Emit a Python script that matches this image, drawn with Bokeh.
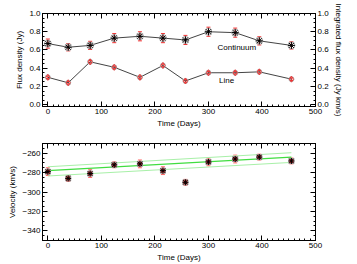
from bokeh.plotting import figure
from bokeh.layouts import column
from bokeh.models import (ColumnDataSource, Whisker, TeeHead, LinearAxis, Range1d,
                          SingleIntervalTicker, Label, CustomJSTickFormatter,
                          NumeralTickFormatter)
from bokeh.embed import file_html
from bokeh.resources import INLINE

# ---- data ----
days = [0, 38, 79, 124, 172, 215, 257, 300, 350, 395, 455]
continuum = [0.67, 0.63, 0.65, 0.73, 0.75, 0.73, 0.71, 0.80, 0.79, 0.70, 0.65]
continuum_err = [0.05, 0.04, 0.045, 0.05, 0.05, 0.05, 0.05, 0.05, 0.05, 0.045, 0.04]
line_flux = [0.30, 0.24, 0.47, 0.41, 0.30, 0.43, 0.26, 0.35, 0.35, 0.36, 0.28]
line_err = [0.015, 0.015, 0.015, 0.015, 0.015, 0.015, 0.015, 0.015, 0.015, 0.015, 0.015]
velocity = [-279, -286, -281, -272, -271, -278, -290, -269, -266, -264, -268]
velocity_err = [4, 3, 4, 3, 4, 4, 3, 4, 4, 3, 3]
fit_x = [0, 455]
fit_mid = [-278, -264]
fit_hi = [-274, -259.5]
fit_lo = [-283.5, -269.5]

FONT = "Liberation Sans"
FS = "8px"


def style_axis(ax, show_labels=True):
    ax.major_tick_in = 5
    ax.major_tick_out = 0
    ax.minor_tick_in = 2
    ax.minor_tick_out = 0
    ax.axis_line_color = "black"
    ax.major_tick_line_color = "black"
    ax.minor_tick_line_color = "black"
    ax.major_label_text_font = FONT
    ax.major_label_text_font_size = FS
    ax.major_label_text_color = "black"
    ax.major_label_standoff = 2
    ax.axis_label_text_font = FONT
    ax.axis_label_text_font_size = FS
    ax.axis_label_text_font_style = "normal"
    ax.axis_label_text_color = "black"
    ax.axis_label_standoff = 2
    if not show_labels:
        ax.formatter = CustomJSTickFormatter(code="return '';")
        ax.major_label_standoff = 0


def make_fig(h, ymin, ymax, border_top, border_bottom):
    p = figure(width=349, height=h, output_backend="svg", toolbar_location=None,
               x_range=Range1d(-10, 500), y_range=Range1d(ymin, ymax),
               min_border_left=42, min_border_right=34,
               min_border_top=border_top, min_border_bottom=border_bottom,
               x_axis_label="Time (Days)")
    p.grid.visible = False
    p.outline_line_color = "black"
    p.background_fill_color = "white"
    p.border_fill_color = "white"
    return p


RED = "#ee3333"

# ---- top panel ----
p1 = make_fig(130, -0.02, 1.0, 13, 20)
p1.xaxis.ticker = SingleIntervalTicker(interval=100, num_minor_ticks=10)
p1.yaxis.ticker = SingleIntervalTicker(interval=0.2, num_minor_ticks=4)
p1.yaxis.formatter = NumeralTickFormatter(format="0.0")
p1.yaxis.axis_label = "Flux density (Jy)"
style_axis(p1.xaxis[0])
style_axis(p1.yaxis[0])
top1 = LinearAxis(ticker=SingleIntervalTicker(interval=100, num_minor_ticks=10))
style_axis(top1, show_labels=False)
p1.add_layout(top1, "above")
right1 = LinearAxis(ticker=SingleIntervalTicker(interval=0.2, num_minor_ticks=4),
                    formatter=NumeralTickFormatter(format="0.0"),
                    axis_label="Integrated flux density (Jy km/s)")
style_axis(right1)
p1.add_layout(right1, "right")

src_c = ColumnDataSource(dict(x=days, y=continuum,
                              lo=[v - e for v, e in zip(continuum, continuum_err)],
                              hi=[v + e for v, e in zip(continuum, continuum_err)]))
src_l = ColumnDataSource(dict(x=days, y=line_flux,
                              lo=[v - e for v, e in zip(line_flux, line_err)],
                              hi=[v + e for v, e in zip(line_flux, line_err)]))
p1.line("x", "y", source=src_c, line_color="#444444", line_width=1)
p1.line("x", "y", source=src_l, line_color="#444444", line_width=1)
for src in (src_c, src_l):
    p1.add_layout(Whisker(source=src, base="x", lower="lo", upper="hi",
                          line_color=RED, line_width=1,
                          upper_head=TeeHead(size=4, line_color=RED),
                          lower_head=TeeHead(size=4, line_color=RED)))
p1.scatter("x", "y", source=src_c, marker="circle", size=7, fill_color=None,
           line_color="#aaaaaa", line_width=1)
p1.scatter("x", "y", source=src_c, marker="asterisk", size=7, line_color="black",
           line_width=1)
p1.scatter("x", "y", source=src_l, marker="circle", size=5, fill_color=None,
           line_color="#aaaaaa", line_width=1)
p1.scatter("x", "y", source=src_l, marker="diamond", size=6, fill_color=None,
           line_color=RED, line_width=1)
p1.add_layout(Label(x=353, y=0.63, text="Continuum", text_align="center",
                    text_baseline="middle", text_font=FONT, text_font_size=FS,
                    text_color="black"))
p1.add_layout(Label(x=334, y=0.26, text="Line", text_align="center",
                    text_baseline="middle", text_font=FONT, text_font_size=FS,
                    text_color="black"))

# ---- bottom panel ----
p2 = make_fig(134, -350, -250, 13, 22)
p2.xaxis.ticker = SingleIntervalTicker(interval=100, num_minor_ticks=10)
p2.yaxis.ticker = SingleIntervalTicker(interval=20, num_minor_ticks=4)
p2.yaxis.axis_label = "Velocity (km/s)"
style_axis(p2.xaxis[0])
style_axis(p2.yaxis[0])
top2 = LinearAxis(ticker=SingleIntervalTicker(interval=100, num_minor_ticks=10))
style_axis(top2, show_labels=False)
p2.add_layout(top2, "above")
right2 = LinearAxis(ticker=SingleIntervalTicker(interval=20, num_minor_ticks=4))
style_axis(right2, show_labels=False)
p2.add_layout(right2, "right")

p2.line(fit_x, fit_hi, line_color="#a8f0a8", line_width=1)
p2.line(fit_x, fit_lo, line_color="#a8f0a8", line_width=1)
p2.line(fit_x, fit_mid, line_color="#40dd40", line_width=1.3)

src_v = ColumnDataSource(dict(x=days, y=velocity,
                              lo=[v - e for v, e in zip(velocity, velocity_err)],
                              hi=[v + e for v, e in zip(velocity, velocity_err)]))
p2.add_layout(Whisker(source=src_v, base="x", lower="lo", upper="hi",
                      line_color="#ff6666", line_width=1,
                      upper_head=TeeHead(size=4, line_color="#ff6666"),
                      lower_head=TeeHead(size=4, line_color="#ff6666")))
p2.scatter("x", "y", source=src_v, marker="square", size=5, fill_color="#dd3333",
           line_color="#999999", line_width=1)
p2.scatter("x", "y", source=src_v, marker="asterisk", size=6, line_color="black",
           line_width=1)

layout = column(p1, p2, spacing=0)
open("out.html", "w").write(file_html(layout, INLINE))
